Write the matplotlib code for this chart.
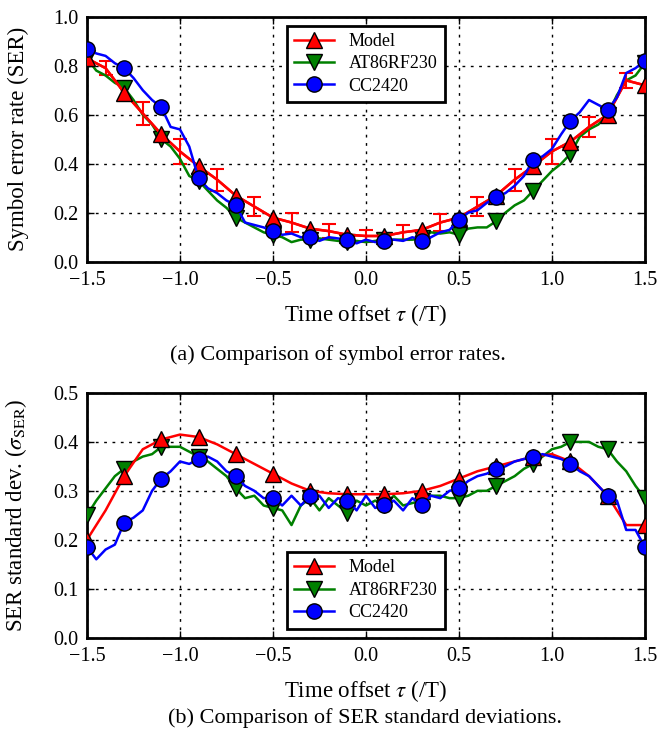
import numpy as np
import matplotlib
matplotlib.use("Agg")
import matplotlib.pyplot as plt

plt.rcParams['font.family'] = ['Liberation Serif', 'DejaVu Serif']
plt.rcParams['mathtext.fontset'] = 'stix'

# model, step 0.1
tau_model = np.round(np.arange(-1.5, 1.5001, 0.1), 2)
ser_model = [0.83, 0.79, 0.69, 0.605, 0.52, 0.45, 0.39, 0.335, 0.27, 0.225, 0.18,
             0.16, 0.135, 0.125, 0.11, 0.105, 0.105, 0.12, 0.13, 0.16, 0.18,
             0.225, 0.27, 0.335, 0.39, 0.45, 0.49, 0.55, 0.6, 0.74, 0.72]
ser_err = [0.03, 0.03, 0.04, 0.045, 0.04, 0.05, 0.04, 0.045, 0.04, 0.04, 0.04,
           0.04, 0.03, 0.03, 0.03, 0.025, 0.03, 0.03, 0.03, 0.035, 0.04,
           0.04, 0.04, 0.045, 0.04, 0.05, 0.04, 0.04, 0.04, 0.03, 0.03]
std_model = [0.2, 0.26, 0.33, 0.385, 0.405, 0.415, 0.41, 0.395, 0.375, 0.355, 0.335,
             0.315, 0.3, 0.295, 0.293, 0.293, 0.293, 0.295, 0.3, 0.31, 0.325,
             0.34, 0.35, 0.36, 0.37, 0.375, 0.36, 0.33, 0.29, 0.23, 0.23]

# measurements, step 0.05
tau_meas = np.round(np.arange(-1.5, 1.5001, 0.05), 2)
ser_at86 = [0.83, 0.78, 0.76, 0.73, 0.71, 0.66, 0.6, 0.56, 0.5, 0.47,
            0.42, 0.35, 0.33, 0.29, 0.25, 0.22, 0.18, 0.16, 0.14, 0.12,
            0.11, 0.1, 0.08, 0.09, 0.09, 0.095, 0.09, 0.085, 0.08, 0.085,
            0.08, 0.085, 0.09, 0.09, 0.09, 0.09, 0.095, 0.12, 0.115, 0.12,
            0.11, 0.135, 0.14, 0.14, 0.165, 0.2, 0.23, 0.25, 0.29, 0.33,
            0.37, 0.4, 0.44, 0.51, 0.54, 0.56, 0.6, 0.68, 0.74, 0.76, 0.81]
ser_cc2420 = [0.87, 0.85, 0.84, 0.81, 0.79, 0.75, 0.7, 0.66, 0.63, 0.55,
              0.54, 0.47, 0.34, 0.3, 0.28, 0.25, 0.23, 0.16, 0.15, 0.14,
              0.125, 0.11, 0.115, 0.1, 0.1, 0.085, 0.1, 0.095, 0.09, 0.075,
              0.09, 0.08, 0.085, 0.09, 0.085, 0.1, 0.085, 0.1, 0.12, 0.13,
              0.17, 0.2, 0.21, 0.24, 0.265, 0.28, 0.31, 0.35, 0.415, 0.43,
              0.46, 0.52, 0.575, 0.61, 0.66, 0.64, 0.62, 0.67, 0.77, 0.79, 0.82]
std_at86 = [0.25, 0.28, 0.305, 0.33, 0.345, 0.36, 0.37, 0.375, 0.39, 0.39,
            0.39, 0.38, 0.37, 0.36, 0.345, 0.33, 0.305, 0.285, 0.29, 0.27,
            0.265, 0.26, 0.23, 0.27, 0.285, 0.26, 0.285, 0.27, 0.255, 0.28,
            0.27, 0.28, 0.27, 0.29, 0.27, 0.275, 0.28, 0.29, 0.29, 0.285,
            0.285, 0.29, 0.3, 0.3, 0.31, 0.32, 0.33, 0.345, 0.355, 0.37,
            0.385, 0.39, 0.4, 0.4, 0.4, 0.39, 0.385, 0.36, 0.34, 0.31, 0.285]
std_cc2420 = [0.185, 0.16, 0.18, 0.19, 0.235, 0.245, 0.26, 0.3, 0.325, 0.34,
              0.36, 0.355, 0.365, 0.37, 0.36, 0.34, 0.33, 0.31, 0.3, 0.285,
              0.285, 0.27, 0.29, 0.27, 0.29, 0.29, 0.265, 0.285, 0.28, 0.26,
              0.29, 0.265, 0.27, 0.28, 0.26, 0.285, 0.27, 0.29, 0.285, 0.3,
              0.305, 0.32, 0.33, 0.335, 0.345, 0.35, 0.36, 0.365, 0.37, 0.375,
              0.37, 0.365, 0.355, 0.34, 0.33, 0.31, 0.29, 0.28, 0.22, 0.22, 0.185]

xticks = [-1.5, -1.0, -0.5, 0.0, 0.5, 1.0, 1.5]

fig = plt.figure(figsize=(6.6, 7.45), dpi=100)
ax1 = fig.add_axes([0.1318, 0.6487, 0.8452, 0.3289])
ax2 = fig.add_axes([0.1318, 0.1442, 0.8452, 0.3283])

mk = dict(markersize=11, markeredgecolor='black', markeredgewidth=1.0, lw=1.8)
fmt = matplotlib.ticker.FuncFormatter(lambda v, p: f'{v:.1f}'.replace('-', '\u2212'))


def style(ax, ymax):
    ax.set_xlim(-1.5, 1.5)
    ax.set_ylim(0, ymax)
    ax.set_xticks(xticks)
    ax.set_yticks(np.round(np.arange(0, ymax + 0.001, 0.1 if ymax < 1 else 0.2), 1))
    ax.xaxis.set_major_formatter(fmt)
    ax.yaxis.set_major_formatter(fmt)
    ax.tick_params(direction='in', top=True, right=True, labelsize=14.5, length=5, width=1)
    ax.tick_params(axis='x', pad=7)
    ax.tick_params(axis='y', pad=6)
    ax.grid(True, color='black', linestyle=(0, (2, 4)), linewidth=1)
    for s in ax.spines.values():
        s.set_linewidth(2)
    ax.set_xlabel(r'Time offset $\tau$ (/T)', fontsize=16.5)
    ax.xaxis.set_label_coords(0.5, -0.165)
    ax.yaxis.set_label_coords(-0.104, 0.5)


leg_kw = dict(fontsize=13, fancybox=False, framealpha=1, edgecolor='black',
              borderpad=0.4, handlelength=2.2, handletextpad=0.8,
              labelspacing=0.3, numpoints=1)

# (a) SER
ax1.errorbar(tau_model, ser_model, yerr=ser_err, color='red', lw=1.8,
             errorevery=(1, 2), capsize=5, elinewidth=1.5, capthick=1.5, zorder=3)
ax1.plot(tau_model, ser_model, color='red', marker='^', markevery=2,
         label='Model', zorder=4, **mk)
ax1.plot(tau_meas, ser_at86, color='green', marker='v', markevery=4,
         label='AT86RF230', zorder=3, **mk)
ax1.plot(tau_meas, ser_cc2420, color='blue', marker='o', markevery=4,
         label='CC2420', zorder=5, **mk)
style(ax1, 1.0)
ax1.set_ylabel('Symbol error rate (SER)', fontsize=16.5)
leg = ax1.legend(loc='upper center', **leg_kw)
leg.get_frame().set_linewidth(2)

# (b) std dev
ax2.plot(tau_model, std_model, color='red', marker='^', markevery=2,
         label='Model', zorder=4, **mk)
ax2.plot(tau_meas, std_at86, color='green', marker='v', markevery=4,
         label='AT86RF230', zorder=3, **mk)
ax2.plot(tau_meas, std_cc2420, color='blue', marker='o', markevery=4,
         label='CC2420', zorder=5, **mk)
style(ax2, 0.5)
ax2.set_ylabel(r'SER standard dev. ($\sigma_{\mathrm{SER}}$)', fontsize=16.5)
leg = ax2.legend(loc='lower center', **leg_kw)
leg.get_frame().set_linewidth(2)

fig.text(0.512, 1 - 355 / 745, '(a) Comparison of symbol error rates.',
         ha='center', va='center', fontsize=16)
fig.text(0.553, 1 - 718 / 745, '(b) Comparison of SER standard deviations.',
         ha='center', va='center', fontsize=16)

fig.savefig('out.png', dpi=100)
